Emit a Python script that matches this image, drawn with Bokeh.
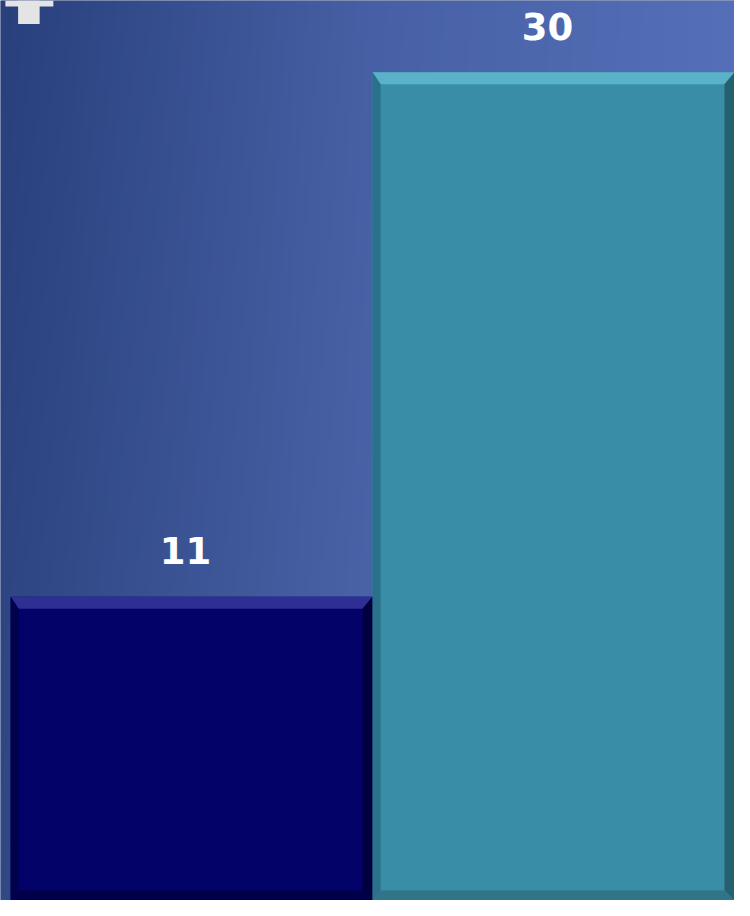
import numpy as np
from bokeh.plotting import figure
from bokeh.models import Range1d, ColumnDataSource
from bokeh.core.properties import value
from bokeh.embed import file_html
from bokeh.resources import INLINE

# ---- data ----
categories = ["A", "B"]
values = [11, 30]
bar_colors = ["#020268", "#3a8da7"]
top_colors = ["#2e2e94", "#5ab2c9"]
left_colors = ["#01014c", "#2a7289"]
right_colors = ["#00003e", "#25606f"]
bottom_colors = ["#00004a", "#2f7487"]
labels = ["11", "30"]

W, H = 734, 900
X0, X1 = -0.528, 1.5
Y0, Y1 = 0.0, 32.6
bar_w = 1.0

p = figure(width=W, height=H, x_range=Range1d(X0, X1), y_range=Range1d(Y0, Y1),
           output_backend="svg", toolbar_location=None, min_border=0,
           x_axis_type=None, y_axis_type=None, outline_line_color=None,
           background_fill_color="#2b3f7b", border_fill_color="#2b3f7b")
p.grid.visible = False

# ---- background gradient ----
nx, ny = 375, 120
tx = np.linspace(0, 1, nx)[None, :]
ty = np.linspace(0, 1, ny)[:, None]  # 0 bottom, 1 top
left = np.array([0x30, 0x48, 0x84], float)
mid = np.array([0x4b, 0x64, 0xa9], float)
right = np.array([0x55, 0x70, 0xb8], float)
img = np.zeros((ny, nx, 4), dtype=np.uint8)
for c in range(3):
    a = np.where(tx < 0.5, left[c] + (mid[c] - left[c]) * (tx / 0.5),
                 mid[c] + (right[c] - mid[c]) * ((tx - 0.5) / 0.5))
    a = a - 8 * ty * (1 - tx)
    img[:, :, c] = np.clip(np.broadcast_to(a, (ny, nx)), 0, 255).astype(np.uint8)
img[:, :, 3] = 255
rgba = img.view(dtype=np.uint32).reshape((ny, nx))
p.image_rgba(image=[rgba], x=X0, y=Y0, dw=X1 - X0, dh=Y1 - Y0)

# ---- bars ----
xs = list(range(len(values)))
src = ColumnDataSource(dict(x=xs, top=values, color=bar_colors, label=labels))
p.vbar(x="x", top="top", bottom=0, width=bar_w, fill_color="color", line_color=None, source=src)

# bevel edges (sizes in px converted to data units)
pxx = (X1 - X0) / W
pxy = (Y1 - Y0) / H
bt, bs, bb = 12 * pxy, 8 * pxx, 10 * pxy
bsr = 10 * pxx
for i, (x, v) in enumerate(zip(xs, values)):
    l, r, t, b = x - bar_w / 2, x + bar_w / 2, v, 0.0
    p.patch([l, r, r - bsr, l + bs], [t, t, t - bt, t - bt], fill_color=top_colors[i], line_color=None)
    p.patch([l, l + bs, l + bs, l], [t, t - bt, b + bb, b], fill_color=left_colors[i], line_color=None)
    p.patch([r, r - bsr, r - bsr, r], [t, t - bt, b + bb, b], fill_color=right_colors[i], line_color=None)
    p.patch([l, l + bs, r - bsr, r], [b, b + bb, b + bb, b], fill_color=bottom_colors[i], line_color=None)

# value labels
p.text(x="x", y="top", text="label", source=src, text_color="white",
       text_font=value("DejaVu Sans"), text_font_style="bold", text_font_size="37px",
       text_align="center", text_baseline="alphabetic", x_offset=-6, y_offset=-46)

# small white mark in the top-left corner
def fx(px):
    return X0 + px / 750 * (X1 - X0)

def fy(py):
    return Y1 - py / 916 * (Y1 - Y0)

p.quad(left=[fx(5)], right=[fx(54)], top=[fy(0)], bottom=[fy(6)], fill_color="#e4e4e4", line_color=None)
p.quad(left=[fx(18)], right=[fx(40)], top=[fy(0)], bottom=[fy(24)], fill_color="#e4e4e4", line_color=None)

open("out.html", "w").write(file_html(p, INLINE))
